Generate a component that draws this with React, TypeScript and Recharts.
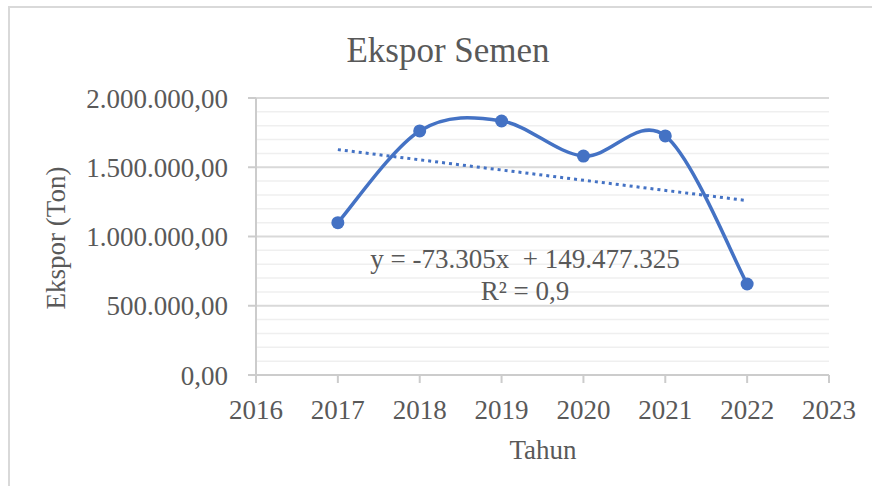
import React from 'react';
import { LineChart, Line, XAxis, YAxis, CartesianGrid } from 'recharts';

const years = [2017, 2018, 2019, 2020, 2021, 2022];
const ekspor = [1100000, 1762000, 1834000, 1581000, 1726000, 657000];
const xTicks = [2016, 2017, 2018, 2019, 2020, 2021, 2022, 2023];
const yTicks = [0, 500000, 1000000, 1500000, 2000000];
const minorGrid = [100000, 200000, 300000, 400000, 600000, 700000, 800000, 900000, 1100000, 1200000, 1300000, 1400000, 1600000, 1700000, 1800000, 1900000];
const titleText = 'Ekspor Semen';
const xTitle = 'Tahun';
const yTitle = 'Ekspor (Ton)';
const eqLine1 = 'y = -73.305x  + 149.477.325';
const eqLine2 = 'R² = 0,9';

const seriesData = years.map((x, i) => ({ x, y: ekspor[i] }));

// least-squares linear trendline over the series (as Excel does)
const n = years.length;
const mx = years.reduce((a, b) => a + b, 0) / n;
const my = ekspor.reduce((a, b) => a + b, 0) / n;
const sxy = years.reduce((a, x, i) => a + (x - mx) * (ekspor[i] - my), 0);
const sxx = years.reduce((a, x) => a + (x - mx) * (x - mx), 0);
const slope = sxy / sxx;
const intercept = my - slope * mx;
const trendData = [years[0], years[n - 1]].map((x) => ({ x, y: slope * x + intercept }));

// Excel-like smoothing (Catmull-Rom as cubic Bezier)
const excelCurve = (context: any) => {
  let pts: number[][] = [];
  return {
    areaStart() {},
    areaEnd() {},
    lineStart() {
      pts = [];
    },
    point(x: number, y: number) {
      pts.push([+x, +y]);
    },
    lineEnd() {
      const m = pts.length;
      if (!m) return;
      context.moveTo(pts[0][0], pts[0][1]);
      for (let i = 0; i < m - 1; i++) {
        const p0 = pts[i - 1] || pts[i];
        const p1 = pts[i];
        const p2 = pts[i + 1];
        const p3 = pts[i + 2] || pts[i + 1];
        const c1x = p1[0] + (p2[0] - p0[0]) / 6;
        const c1y = p1[1] + (p2[1] - p0[1]) / 6;
        const c2x = p2[0] - (p3[0] - p1[0]) / 6;
        const c2y = p2[1] - (p3[1] - p1[1]) / 6;
        context.bezierCurveTo(c1x, c1y, c2x, c2y, p2[0], p2[1]);
      }
    },
  };
};

const fmt = (v: number) =>
  Math.round(v).toString().replace(/\B(?=(\d{3})+(?!\d))/g, '.') + ',00';

const FONT = '"Liberation Serif", "Times New Roman", serif';
const TXT = '#595959';

export default function App() {
  return (
    <div style={{ position: 'absolute', left: 0, top: 0, width: 872, height: 486, overflow: 'hidden', background: '#fff', fontFamily: FONT }}>
      <div style={{ position: 'absolute', left: 8, top: 6, width: 900, height: 520, border: '2px solid #d9d9d9', boxSizing: 'border-box' }} />
      <div style={{ position: 'absolute', left: 0, top: 0 }}>
        <LineChart width={872} height={486} margin={{ top: 98, right: 43, bottom: 0, left: 0 }}>
          <CartesianGrid horizontalValues={minorGrid} vertical={false} stroke="#efefef" strokeWidth={1.5} />
          <CartesianGrid horizontalValues={yTicks} vertical={false} stroke="#d9d9d9" strokeWidth={2} />
          <XAxis
            dataKey="x"
            type="number"
            domain={[2016, 2023]}
            ticks={xTicks}
            allowDecimals={false}
            height={111}
            tickSize={8}
            tickMargin={17}
            axisLine={{ stroke: '#cccccc', strokeWidth: 2 }}
            tickLine={{ stroke: '#cccccc', strokeWidth: 2 }}
            tick={{ fill: TXT, fontSize: 27, fontFamily: FONT }}
            interval={0}
          />
          <YAxis
            dataKey="y"
            type="number"
            domain={[0, 2000000]}
            ticks={yTicks}
            width={256}
            tickSize={8}
            tickMargin={20}
            tickFormatter={fmt}
            axisLine={{ stroke: '#cccccc', strokeWidth: 2 }}
            tickLine={{ stroke: '#cccccc', strokeWidth: 2 }}
            tick={{ fill: TXT, fontSize: 27, fontFamily: FONT }}
            interval={0}
          />
          <Line
            data={trendData}
            dataKey="y"
            type="linear"
            stroke="#4472C4"
            strokeWidth={3}
            strokeDasharray="3 4"
            dot={false}
            activeDot={false}
            isAnimationActive={false}
          />
          <Line
            data={seriesData}
            dataKey="y"
            type={excelCurve as any}
            stroke="#4472C4"
            strokeWidth={3.5}
            dot={{ r: 6.5, fill: '#4472C4', stroke: '#4472C4', strokeWidth: 0 }}
            activeDot={false}
            isAnimationActive={false}
          />
        </LineChart>
      </div>
      <svg width={872} height={486} style={{ position: 'absolute', left: 0, top: 0, pointerEvents: 'none' }}>
        <text x={448} y={62} textAnchor="middle" fontSize={35} fill={TXT} fontFamily={FONT}>{titleText}</text>
        <text x={543} y={459} textAnchor="middle" fontSize={27} fill={TXT} fontFamily={FONT}>{xTitle}</text>
        <text x={65} y={238} textAnchor="middle" fontSize={27} fill={TXT} fontFamily={FONT} transform="rotate(-90 65 238)">{yTitle}</text>
        <text x={525} y={268} textAnchor="middle" fontSize={27} fill={TXT} fontFamily={FONT} style={{ whiteSpace: 'pre' }}>{eqLine1}</text>
        <text x={525} y={300} textAnchor="middle" fontSize={27} fill={TXT} fontFamily={FONT}>{eqLine2}</text>
      </svg>
    </div>
  );
}
